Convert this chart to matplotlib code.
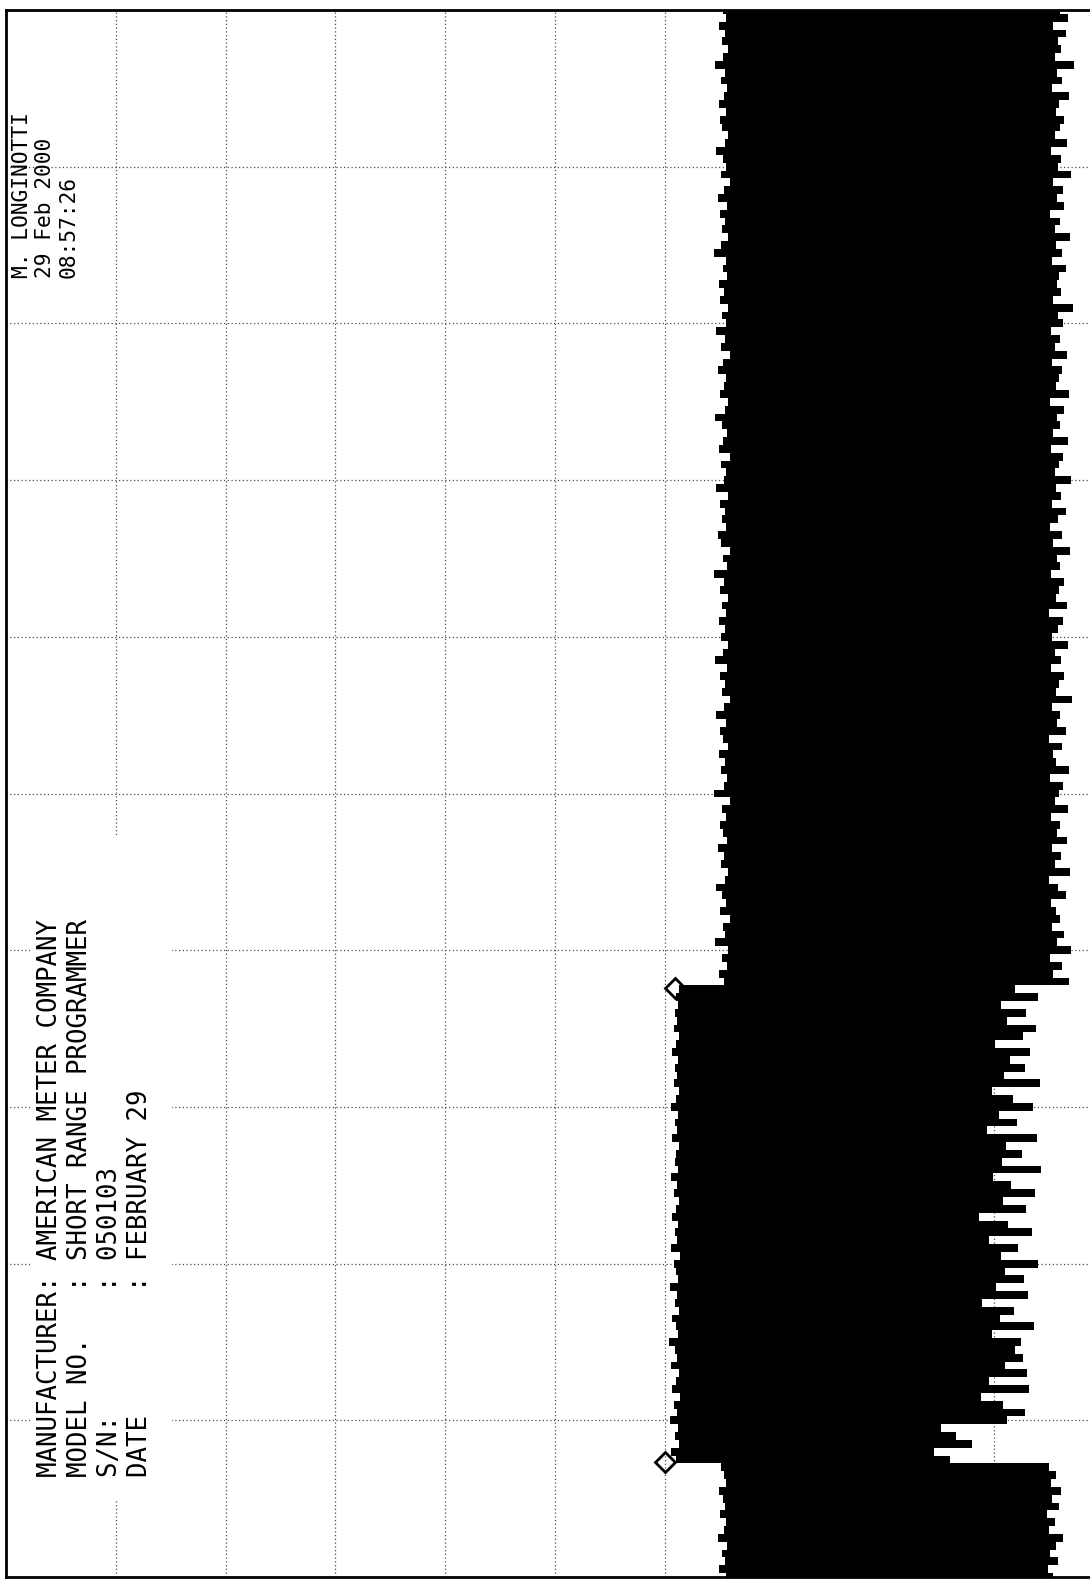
import numpy as np
import matplotlib
matplotlib.use('Agg')
import matplotlib.pyplot as plt
from matplotlib.patches import Rectangle

# recorder trace: min / max envelope of the pen, in chart divisions
# time runs up the page, one sample every half division
t = np.arange(0, 100.01, 0.5)

# segment C (bottom, t 0 - 7)
low_c = [65.6, 64.9, 65.5, 65.2, 65.7, 64.8, 65.4, 65.6, 65.0, 65.5, 65.3, 64.9, 65.6, 65.4, 65.1]
high_c = [95.4, 94.9, 95.8, 95.1, 95.6, 96.3, 95.0, 95.5, 94.8, 95.9, 95.3, 96.1, 95.2, 95.6, 95.0]

# segment B (t 7.5 - 37.5)
low_b = [61.0, 60.6, 61.3, 60.9, 61.2, 60.5, 61.1, 60.8, 61.4, 60.7,
         61.0, 61.3, 60.6, 61.1, 60.9, 60.4, 61.2, 61.0, 60.7, 61.3,
         60.9, 61.1, 60.5, 61.2, 61.0, 60.8, 61.4, 60.6, 61.1, 60.9,
         61.2, 60.7, 61.0, 61.3, 60.8, 61.1, 60.6, 61.2, 60.9, 61.0,
         61.3, 60.7, 61.1, 60.9, 61.2, 60.6, 61.0, 61.3, 60.8, 61.1,
         60.9, 61.2, 60.7, 61.0, 61.3, 60.8, 61.1, 60.9, 61.2, 61.0, 61.3]
high_b = [86.0, 84.5, 88.0, 86.5, 85.2, 91.2, 92.8, 90.8, 88.8, 93.2,
          89.5, 93.0, 91.0, 92.6, 91.9, 92.4, 89.8, 93.6, 90.5, 91.8,
          88.9, 93.1, 90.2, 92.7, 91.0, 94.0, 90.6, 92.2, 89.5, 93.4,
          91.3, 88.6, 92.9, 90.8, 93.7, 91.5, 89.9, 94.3, 90.7, 92.5,
          91.1, 93.9, 89.3, 92.1, 90.4, 93.5, 91.7, 89.8, 94.2, 90.9,
          92.8, 91.4, 93.3, 90.1, 92.6, 93.8, 91.2, 92.9, 90.6, 94.0, 91.9]

# segment A (top, t 38 - 100)
low_a = [65.4, 64.9, 65.7, 65.2, 65.8, 64.6, 65.5, 65.3, 65.9, 65.0,
         65.6, 65.2, 64.7, 65.5, 65.8, 65.1, 65.4, 64.8, 65.7, 65.3,
         65.0, 65.6, 65.2, 65.9, 64.5, 65.4, 65.7, 65.1, 65.5, 64.9,
         65.8, 65.3, 65.0, 65.6, 64.7, 65.4, 65.9, 65.2, 65.5, 65.0,
         65.7, 64.6, 65.3, 65.8, 65.1, 65.5, 64.9, 65.6, 65.2, 65.8,
         65.0, 65.4, 64.5, 65.7, 65.3, 65.9, 65.1, 64.8, 65.6, 65.2,
         65.5, 65.0, 65.8, 64.7, 65.4, 65.6, 65.1, 65.9, 64.9, 65.3,
         65.7, 65.2, 64.6, 65.5, 65.8, 65.0, 65.4, 65.6, 64.8, 65.3,
         65.9, 65.1, 65.5, 64.7, 65.6, 65.2, 65.8, 65.0, 65.4, 64.9,
         65.7, 65.3, 65.6, 64.5, 65.1, 65.8, 65.2, 65.5, 65.0, 65.7,
         64.8, 65.4, 65.9, 65.1, 65.6, 65.3, 64.7, 65.5, 65.8, 65.2,
         65.0, 65.6, 64.9, 65.4, 65.7, 65.1, 65.5, 64.6, 65.3, 65.8,
         65.2, 65.5, 64.9, 65.6, 65.3]
high_a = [96.8, 95.4, 96.2, 95.1, 97.0, 95.7, 96.4, 95.3, 96.0, 95.6,
          95.2, 96.5, 95.8, 95.0, 96.9, 95.5, 96.1, 95.3, 96.6, 95.7,
          96.0, 95.2, 96.7, 95.5, 95.9, 96.3, 95.1, 96.8, 95.6, 95.4,
          96.2, 95.0, 96.5, 95.7, 96.0, 95.3, 97.1, 95.6, 95.9, 96.4,
          95.2, 96.1, 95.5, 96.7, 95.3, 95.8, 96.3, 95.0, 96.6, 95.6,
          95.9, 96.4, 95.2, 96.0, 95.7, 96.9, 95.4, 96.2, 95.1, 95.8,
          96.5, 95.3, 96.1, 95.6, 97.0, 95.5, 95.9, 96.3, 95.2, 96.7,
          95.4, 96.0, 95.7, 96.4, 95.1, 96.8, 95.6, 95.9, 96.2, 95.3,
          96.6, 95.5, 96.0, 95.2, 96.3, 95.8, 97.2, 95.4, 96.1, 95.7,
          95.9, 96.5, 95.3, 96.2, 95.6, 96.9, 95.5, 96.0, 95.1, 96.4,
          95.7, 96.3, 95.4, 97.0, 95.8, 96.1, 95.2, 96.6, 95.5, 96.0,
          96.4, 95.6, 95.9, 96.8, 95.3, 96.2, 95.7, 97.3, 95.5, 96.1,
          95.8, 96.5, 95.4, 96.7, 96.0]

# event marks at the start / end of segment B
mark_t = [37.6, 7.35]
mark_v = [60.9, 60.0]

header_top = "M. LONGINOTTI\n29 Feb 2000\n08:57:26"
header_info = ("MANUFACTURER: AMERICAN METER COMPANY\n"
               "MODEL NO.   : SHORT RANGE PROGRAMMER\n"
               "S/N:        : 050103\n"
               "DATE        : FEBRUARY 29")

low = np.array(low_c + low_b + low_a)
high = np.array(high_c + high_b + high_a)

fig = plt.figure(figsize=(10.9, 15.81), dpi=100)
# chart paper runs a little past the right edge of the scan
ax = fig.add_axes([6 / 1090, 4 / 1581, 1098 / 1090, 1567 / 1581])

ax.fill_betweenx(t, low, high, step='mid', color='black', lw=0, zorder=3)
ax.plot(mark_v, mark_t, ls='none', marker='D', ms=10, mfc='none',
        mec='black', mew=2, zorder=5)

# blank label area on the paper
ax.add_patch(Rectangle((2.2, 4.9), 12.9, 42.3, facecolor='white',
                       edgecolor='none', zorder=2))

ax.text(0.55, 82.9, header_top, rotation=90, ha='left', va='bottom',
        family='DejaVu Sans Mono', fontsize=15.3, zorder=4)
ax.text(2.8, 6.4, header_info, rotation=90, ha='left', va='bottom',
        family='DejaVu Sans Mono', fontsize=18.5, zorder=4)

ax.set_xlim(0, 100)
ax.set_ylim(0, 100)
ax.set_xticks(np.arange(0, 101, 10))
ax.set_yticks(np.arange(0, 101, 10))
ax.tick_params(length=0, labelbottom=False, labelleft=False)
ax.set_axisbelow(True)
ax.grid(True, color='0.3', lw=0.9, ls=(0, (1, 2)))

for side in ['left', 'top', 'bottom']:
    ax.spines[side].set_linewidth(2)
ax.spines['right'].set_visible(False)

fig.savefig('out.png', dpi=100)
